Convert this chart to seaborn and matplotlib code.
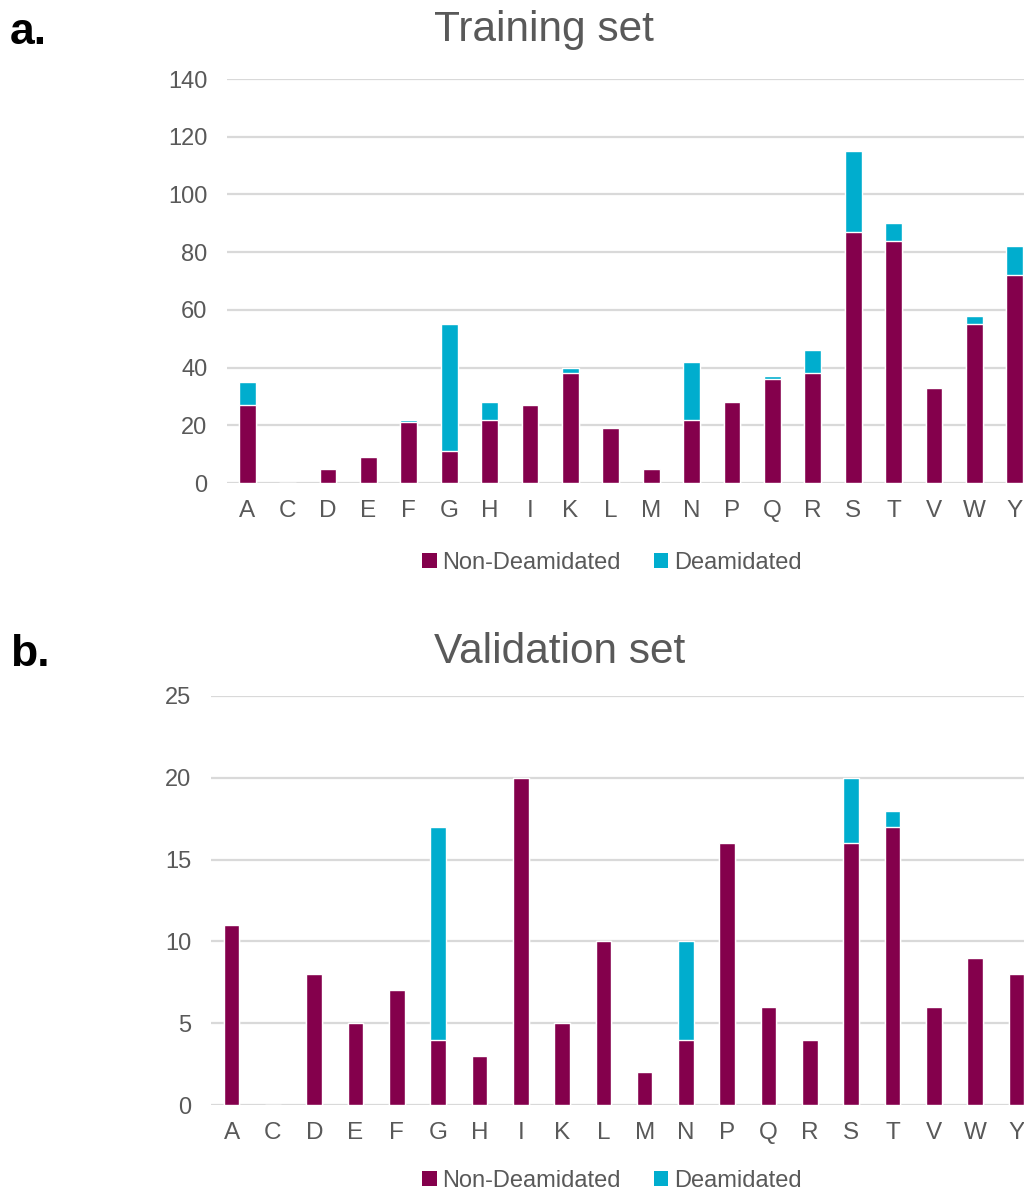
import matplotlib
matplotlib.use("Agg")
import matplotlib.pyplot as plt
import seaborn as sns
import numpy as np
import pandas as pd
from matplotlib.patches import Patch

categories = ["A", "C", "D", "E", "F", "G", "H", "I", "K", "L",
              "M", "N", "P", "Q", "R", "S", "T", "V", "W", "Y"]

train_non = [27, 0, 5, 9, 21, 11, 22, 27, 38, 19, 5, 22, 28, 36, 38, 87, 84, 33, 55, 72]
train_deam = [8, 0, 0, 0, 1, 44, 6, 0, 2, 0, 0, 20, 0, 1, 8, 28, 6, 0, 3, 10]

valid_non = [11, 0, 8, 5, 7, 4, 3, 20, 5, 10, 2, 4, 16, 6, 4, 16, 17, 6, 9, 8]
valid_deam = [0, 0, 0, 0, 0, 13, 0, 0, 0, 0, 0, 6, 0, 0, 0, 4, 1, 0, 0, 0]

train_yticks = [0, 20, 40, 60, 80, 100, 120, 140]
valid_yticks = [0, 5, 10, 15, 20, 25]

MAROON = "#84004C"
CYAN = "#00ADCE"
GRID = "#D9D9D9"
TXT = "#595959"

sns.set_theme(style="white")
plt.rcParams["font.family"] = ["Liberation Sans", "DejaVu Sans"]

W, H = 1024, 1191
fig = plt.figure(figsize=(W / 100, H / 100), dpi=100)


def px_axes(left, right, top, bottom):
    return fig.add_axes([left / W, 1 - bottom / H, (right - left) / W, (bottom - top) / H])


def draw(ax, non, deam, yticks, width):
    df = pd.DataFrame({"cat": categories, "non": non, "deam": deam})
    df["total"] = df["non"] + df["deam"]
    sns.barplot(data=df, x="cat", y="total", color=CYAN, width=width,
                saturation=1, ax=ax, order=categories, zorder=3)
    sns.barplot(data=df, x="cat", y="non", color=MAROON, width=width,
                saturation=1, ax=ax, order=categories, zorder=4)
    ax.set_xlim(-0.5, len(categories) - 0.5)
    ax.set_ylim(yticks[0], yticks[-1])
    ax.set_yticks(yticks)
    ax.set_xlabel("")
    ax.set_ylabel("")
    for s in ax.spines.values():
        s.set_visible(False)
    ax.grid(False)
    for t in yticks:
        ax.axhline(t, color=GRID, lw=1.6, zorder=1)
    ax.tick_params(axis="y", length=0, pad=14, labelsize=17, labelcolor=TXT)
    ax.tick_params(axis="x", length=0, pad=12, labelsize=17.5, labelcolor=TXT)
    ax.set_facecolor("none")


ax1 = px_axes(227, 1035, 79, 483)
draw(ax1, train_non, train_deam, train_yticks, 0.42)

ax2 = px_axes(211, 1037, 696, 1105)
draw(ax2, valid_non, valid_deam, valid_yticks, 0.38)

fig.text(544 / W, 1 - 30 / H, "Training set", ha="center", va="center",
         fontsize=30.5, color=TXT)
fig.text(560 / W, 1 - 652 / H, "Validation set", ha="center", va="center",
         fontsize=30.5, color=TXT)
fig.text(10 / W, 1 - 33 / H, "a.", ha="left", va="center", fontsize=32,
         fontweight="bold", color="black")
fig.text(10 / W, 1 - 655 / H, "b.", ha="left", va="center", fontsize=32,
         fontweight="bold", color="black")

handles = [Patch(facecolor=MAROON, edgecolor="none", label="Non-Deamidated"),
           Patch(facecolor=CYAN, edgecolor="none", label="Deamidated")]
for yc in (563, 1181):
    fig.legend(handles=handles, loc="center", bbox_to_anchor=(612 / W, 1 - yc / H),
               ncol=2, frameon=False, fontsize=17, labelcolor=TXT,
               handlelength=0.6, handleheight=0.6, handletextpad=0.25,
               columnspacing=1.4, borderaxespad=0)

fig.savefig("out.png", dpi=100)
